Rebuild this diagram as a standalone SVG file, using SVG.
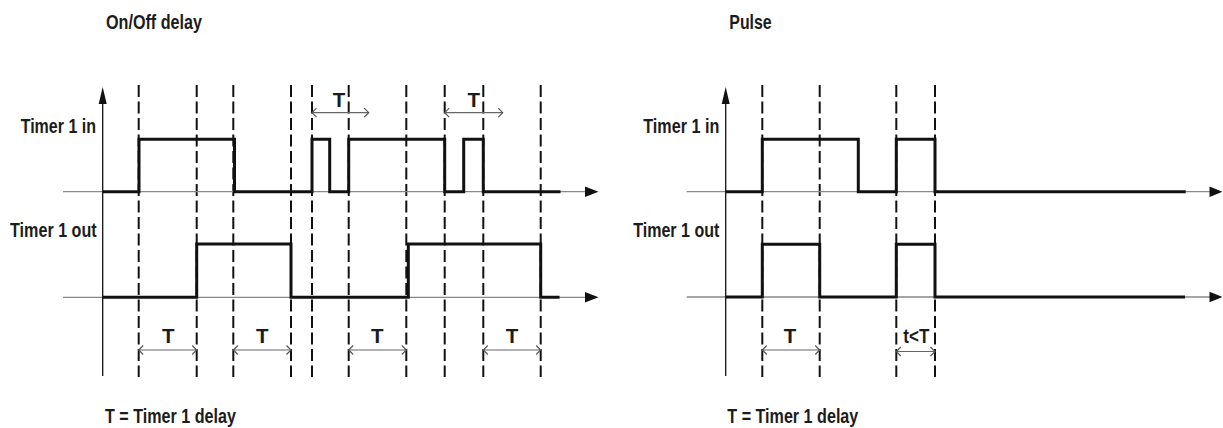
<svg xmlns="http://www.w3.org/2000/svg" width="1223" height="428" viewBox="0 0 1223 428">
<style>
text{font-family:"Liberation Sans Narrow","Liberation Sans",Arial,sans-serif;font-weight:bold;font-size:20.5px;fill:#1c1c1c}
.lbl{text-anchor:middle}
.dash{stroke:#111;stroke-width:2;stroke-dasharray:12 4.5;fill:none}
.axis{stroke:#888;stroke-width:1.3;fill:none}
.yaxis{stroke:#111;stroke-width:1.3;fill:none}
.sig{stroke:#111;stroke-width:3;fill:none;stroke-linejoin:miter}
.dim{stroke:#666;stroke-width:1.2;fill:none;marker-start:url(#chev);marker-end:url(#chev)}
.head{fill:#111}
</style>
<defs>
<marker id="chev" markerUnits="userSpaceOnUse" markerWidth="12" markerHeight="12" viewBox="-6 -6 12 12" refX="0" refY="0" orient="auto-start-reverse">
<path d="M-4.5,-4.5 L0,0 L-4.5,4.5" fill="none" stroke="#555" stroke-width="1.2"/>
</marker>
</defs>
<rect width="1223" height="428" fill="#fff"/>

<g id="left-panel">
  <g id="left-title"><text x="106" y="28.5" textLength="96" lengthAdjust="spacingAndGlyphs">On/Off delay</text></g>
  <g id="left-guides">
    <path class="dash" d="M138.7,85V377M196.7,85V377M233.3,85V377M291,85V377M312,85V377M348.7,85V377M406.3,85V377M444.7,85V377M483.3,85V377M540.7,85V377"/>
  </g>
  <g id="left-axes">
    <path class="axis" d="M63,191.7H590M63,297.3H590"/>
    <polygon class="head" points="598.5,191.7 585,186.5 585,196.9"/>
    <polygon class="head" points="598.5,297.3 585,292.1 585,302.5"/>
    <path class="yaxis" d="M102.7,376V100"/>
    <polygon class="head" points="102.7,87 98.7,104 106.7,104"/>
  </g>
  <g id="left-in">
    <text x="20.7" y="133" textLength="75.3" lengthAdjust="spacingAndGlyphs">Timer 1 in</text>
    <path class="sig" d="M102.7,191.7H139V139.3H234.5V191.7H312V139.3H329.7V191.7H348.7V139.3H444.7V191.7H463.7V139.3H483.3V191.7H560.5"/>
  </g>
  <g id="left-out">
    <text x="10" y="237" textLength="86.7" lengthAdjust="spacingAndGlyphs">Timer 1 out</text>
    <path class="sig" d="M102.7,297.3H196.7V244H291V297.3H408.3V244H540.7V297.3H559.5"/>
  </g>
  <g id="left-foot"><text x="105" y="422.5" textLength="131" lengthAdjust="spacingAndGlyphs">T = Timer 1 delay</text></g>
</g>

<g id="right-panel">
  <g id="right-title"><text x="729.3" y="28.5" textLength="42.4" lengthAdjust="spacingAndGlyphs">Pulse</text></g>
  <g id="right-guides">
    <path class="dash" d="M762.3,85V377M819.7,85V377M896.3,85V377M935,85V377"/>
  </g>
  <g id="right-axes">
    <path class="axis" d="M686.7,191.7H1214M686.7,297H1214"/>
    <polygon class="head" points="1222.5,191.7 1209.5,186.5 1209.5,196.9"/>
    <polygon class="head" points="1222.5,297 1209.5,291.8 1209.5,302.2"/>
    <path class="yaxis" d="M725.7,376V100"/>
    <polygon class="head" points="725.7,87 721.7,104 729.7,104"/>
  </g>
  <g id="right-in">
    <text x="643.3" y="133" textLength="76" lengthAdjust="spacingAndGlyphs">Timer 1 in</text>
    <path class="sig" d="M725.7,191.7H762.3V139.3H858.3V191.7H896.3V139.3H935V191.7H1185.7"/>
  </g>
  <g id="right-out">
    <text x="633.3" y="237" textLength="86" lengthAdjust="spacingAndGlyphs">Timer 1 out</text>
    <path class="sig" d="M725.7,297H762.3V244.3H819.7V297H896.3V244.3H935V297H1185"/>
  </g>
  <g id="right-foot"><text x="727.3" y="422.5" textLength="131" lengthAdjust="spacingAndGlyphs">T = Timer 1 delay</text></g>
</g>

<g id="connectors">
  <path class="dim" d="M312,112.7H368.7"/>
  <path class="dim" d="M444.7,112.7H502.7"/>
  <path class="dim" d="M138.7,350H196.7"/>
  <path class="dim" d="M233.3,350H291"/>
  <path class="dim" d="M348.7,350H406.3"/>
  <path class="dim" d="M483.3,350H540.7"/>
  <path class="dim" d="M762.3,350H819.7"/>
  <path class="dim" d="M896.3,351.5H935"/>
</g>

<g id="dimension-labels">
  <text class="lbl" x="339" y="106.7">T</text>
  <text class="lbl" x="473.7" y="106.7">T</text>
  <text class="lbl" x="168.3" y="343.3">T</text>
  <text class="lbl" x="262.3" y="343.3">T</text>
  <text class="lbl" x="377.3" y="343.3">T</text>
  <text class="lbl" x="512" y="343.3">T</text>
  <text class="lbl" x="790" y="343.3">T</text>
  <text class="lbl" x="916.3" y="343.3" textLength="26" lengthAdjust="spacingAndGlyphs">t&lt;T</text>
</g>
</svg>
